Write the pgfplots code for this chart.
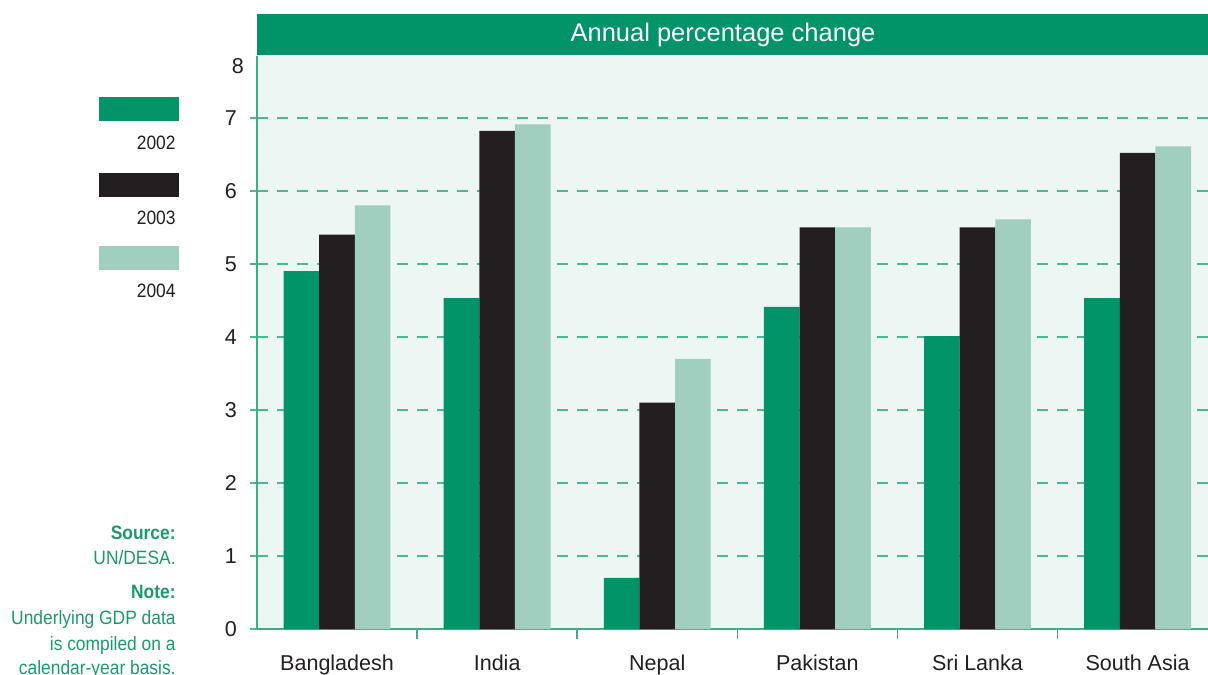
\documentclass[border=0pt]{standalone}
\usepackage{fontspec}
\setmainfont{Liberation Sans}
\newfontfamily\cond[FakeStretch=0.9]{Liberation Sans}
\usepackage{pgfplots}
\pgfplotsset{compat=1.18}
\definecolor{gA}{HTML}{009468}
\definecolor{gB}{HTML}{231F20}
\definecolor{gC}{HTML}{A0CFBF}
\definecolor{bgc}{HTML}{ECF6F2}
\definecolor{gridc}{HTML}{4DB890}
\definecolor{axisg}{HTML}{3FAE84}
\definecolor{txtg}{HTML}{1A9A6C}
\begin{document}
\begin{tikzpicture}
\useasboundingbox (0,0) rectangle (604bp,-337.5bp);
\begin{axis}[
  at={(128.5bp,-314.5bp)}, anchor=south west,
  scale only axis, width=475.5bp, height=286.25bp,
  xmin=-0.5, xmax=5.44, ymin=0, ymax=7.84,
  axis x line*=bottom, axis y line*=left,
  x axis line style={-, draw=axisg, line width=1bp},
  y axis line style={-, draw=axisg, line width=1bp},
  axis background/.style={fill=bgc},
  clip=false,
  ybar=0pt, bar width=0.2225,
  tick align=outside,
  major tick length=3.5bp,
  ytick={0,1,2,3,4,5,6,7},
  ytick style={draw=gridc, line width=0.75bp},
  ymajorgrids,
  grid style={draw=gridc, line width=0.75bp, dash pattern=on 5.5bp off 4.5bp},
  xtick={0,1,2,3,4,5},
  xticklabels={Bangladesh,India,Nepal,Pakistan,Sri Lanka,South Asia},
  xtick style={draw=none},
  extra x ticks={0.5,1.5,2.5,3.5,4.5},
  extra x tick labels={},
  extra x tick style={major tick length=5bp, xtick style={draw=axisg, line width=0.75bp}, grid=none},
  extra y ticks={7.71},
  extra y tick labels={8},
  extra y tick style={major tick length=0bp, grid=none, ytick style={draw=none}},
  /pgf/number format/assume math mode=true,
  ticklabel style={font=\fontsize{10.8}{12}\selectfont, text=gB},
  xticklabel style={yshift=-6bp},
  yticklabel style={xshift=-3bp},
]
\addplot[fill=gA, draw=none] coordinates {(0,4.9) (1,4.53) (2,0.7) (3,4.41) (4,4.01) (5,4.53)};
\addplot[fill=gB, draw=none] coordinates {(0,5.4) (1,6.82) (2,3.1) (3,5.5) (4,5.5) (5,6.52)};
\addplot[fill=gC, draw=none] coordinates {(0,5.8) (1,6.91) (2,3.7) (3,5.5) (4,5.61) (5,6.61)};
\fill[gA] ([yshift=0.5bp]rel axis cs:0,1) rectangle ([yshift=21bp]rel axis cs:1,1);
\node[text=white, font=\fontsize{12.8}{14}\selectfont] at ([yshift=10.75bp]rel axis cs:0.49,1) {Annual percentage change};
\end{axis}
% legend
\fill[gA] (49.5bp,-48.5bp) rectangle (89.5bp,-60.5bp);
\fill[gB] (49.5bp,-86.5bp) rectangle (89.5bp,-98.5bp);
\fill[gC] (49.5bp,-123bp) rectangle (89.5bp,-135bp);
\begin{scope}[every node/.style={anchor=base east, inner sep=0pt, text=gB, font=\cond\fontsize{9.7}{11}\selectfont}]
\node at (88bp,-74.5bp) {2002};
\node at (88bp,-112bp) {2003};
\node at (88bp,-148.5bp) {2004};
\end{scope}
% notes
\begin{scope}[every node/.style={anchor=base east, inner sep=0pt, text=txtg, font=\cond\fontsize{9.7}{11}\selectfont}]
\node at (88bp,-269.5bp) {\bfseries Source:};
\node at (88bp,-282bp) {UN/DESA.};
\node at (88bp,-299bp) {\bfseries Note:};
\node at (88bp,-312bp) {Underlying GDP data};
\node at (88bp,-325bp) {is compiled on a};
\node at (88bp,-337bp) {calendar-year basis.};
\end{scope}
\end{tikzpicture}
\end{document}
